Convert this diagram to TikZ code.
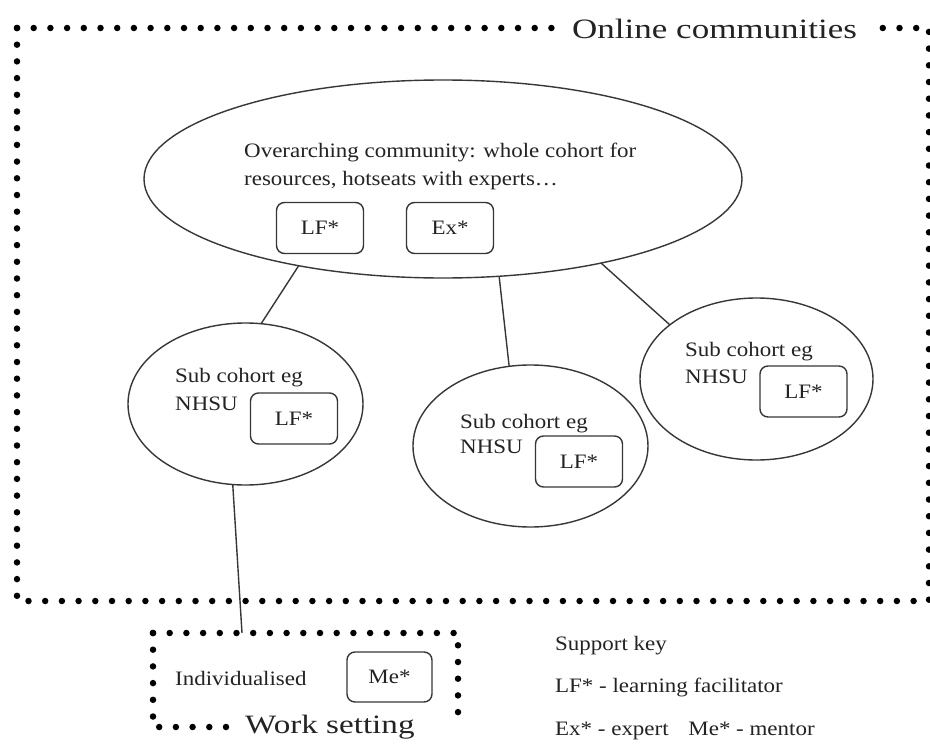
\documentclass[tikz,border=0pt]{standalone}
\usepackage{fontspec}
\setmainfont{Liberation Serif}[FakeStretch=1.12]
\newfontfamily\titlefam{Liberation Serif}[FakeStretch=1.25]
\usetikzlibrary{shapes.geometric}
\definecolor{linegray}{RGB}{55,55,55}
\definecolor{textgray}{RGB}{35,35,35}
\newcommand\bodytxt{\fontsize{20.5}{28}\selectfont}
\begin{document}
\begin{tikzpicture}[x=1pt,y=-1pt,
  dotline/.style={line width=6.5pt, line cap=round, dash pattern=on 0pt off 16.7pt, black},
  conn/.style={line width=1.4pt, draw=linegray},
  oval/.style={ellipse, draw=linegray, line width=1.4pt, inner sep=0pt, outer sep=0pt},
  rolebox/.style={rectangle, rounded corners=8pt, draw=linegray, line width=1.4pt,
     minimum width=87pt, minimum height=51pt, inner sep=0pt, font=\bodytxt, text=textgray},
  txt/.style={anchor=base west, inner sep=0pt, font=\bodytxt, text=textgray},
  title/.style={anchor=base west, inner sep=0pt, text=textgray}
]
\useasboundingbox (0,0) rectangle (930,744);
\fill[white] (0,0) rectangle (930,744);

% outer dotted frame: online communities
\draw[dotline] (17,28) -- (560,28);
\draw[dotline] (17,28) -- (17,601) -- (929,601) -- (929,28) -- (880,28);
\node[title, font={\titlefam\fontsize{28}{32}\selectfont}] (online) at (572,38) {Online communities};

% big ellipse
\node[oval, minimum width=598pt, minimum height=198pt] (big) at (443,179) {};
\node[txt] (bigt1) at (244,157) {Overarching community: whole cohort for};
\node[txt] (bigt2) at (244,185) {resources, hotseats with experts…};
\node[rolebox] (biglf) at (320,228) {LF*};
\node[rolebox] (bigex) at (450,228) {Ex*};

% sub cohorts
\node[oval, minimum width=235pt, minimum height=162pt] (subl) at (245.5,404) {};
\node[txt] (sublt1) at (175,382) {Sub cohort eg};
\node[txt] (sublt2) at (175,410) {NHSU};
\node[rolebox] (subllf) at (294,418.5) {LF*};

\node[oval, minimum width=235pt, minimum height=162pt] (subm) at (530.5,446) {};
\node[txt] (submt1) at (460,428) {Sub cohort eg};
\node[txt] (submt2) at (460,453) {NHSU};
\node[rolebox] (submlf) at (579,461.5) {LF*};

\node[oval, minimum width=233pt, minimum height=162pt] (subr) at (756.5,379) {};
\node[txt] (subrt1) at (685,356) {Sub cohort eg};
\node[txt] (subrt2) at (685,383) {NHSU};
\node[rolebox] (subrlf) at (803.5,391.5) {LF*};

% connectors
\draw[conn] (big.211.8) -- (subl.79.9);
\draw[conn] (big.300.4) -- (subm.105.2);
\draw[conn] (big.332.9) -- (subr.148.4);

% work setting box
\draw[dotline] (153,633) -- (153,727) -- (232,727);
\draw[dotline] (153,633) -- (458,633) -- (458,727);
\coordinate (wtop) at (242,633);
\draw[conn] (subl.261.2) -- (wtop);
\node[txt] (indiv) at (175,685) {Individualised};
\node[rolebox, minimum width=85pt, minimum height=50pt] (me) at (389.5,677) {Me*};
\node[title, font={\titlefam\fontsize{26.5}{30}\selectfont}] (work) at (245,733) {Work setting};

% key
\node[txt] (key1) at (555,650) {Support key};
\node[txt] (key2) at (555,692) {LF* - learning facilitator};
\node[txt] (key3) at (555,735) {Ex* - expert\hspace{14pt} Me* - mentor};
\end{tikzpicture}
\end{document}
